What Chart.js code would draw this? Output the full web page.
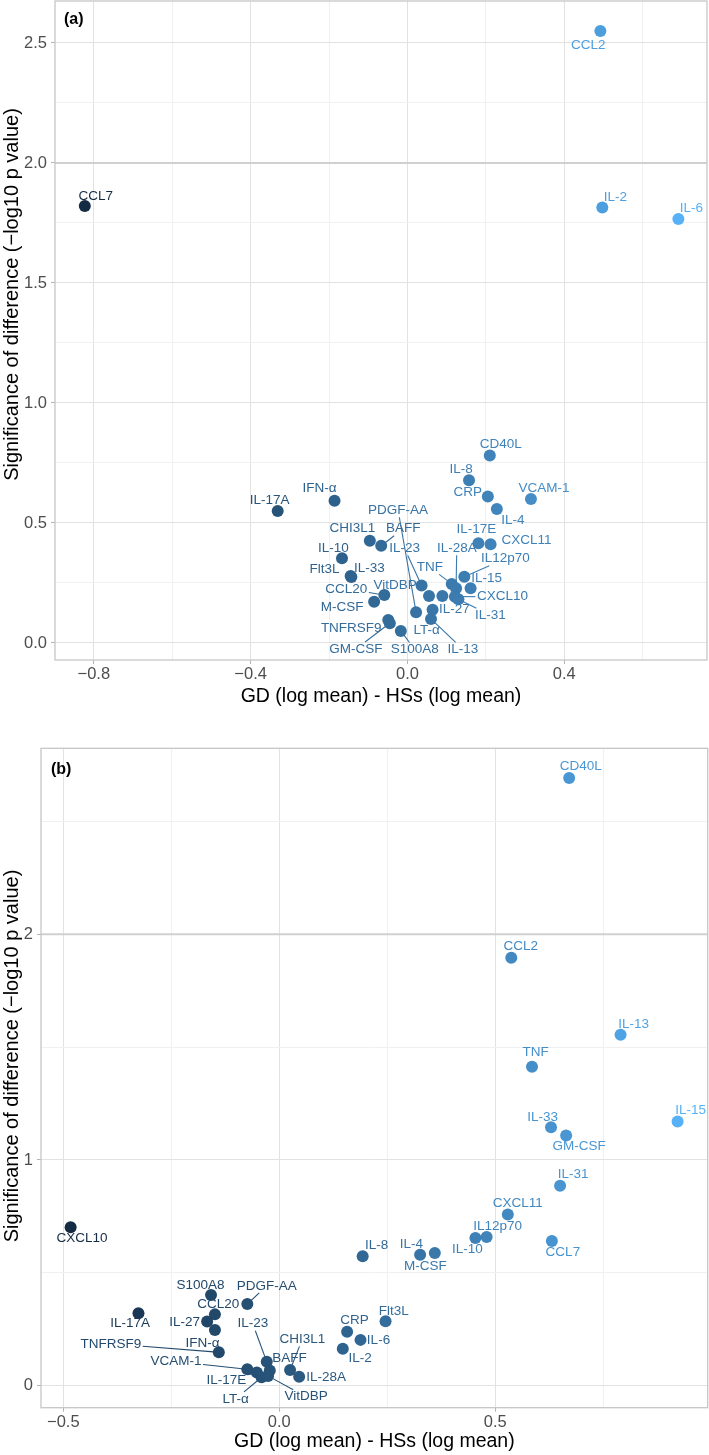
<!DOCTYPE html>
<html><head><meta charset="utf-8">
<script src="https://cdn.jsdelivr.net/npm/chart.js@4.4.1/dist/chart.umd.min.js"></script>
<style>
html,body{margin:0;padding:0;background:#fff;}
#wrapA{position:absolute;left:0;top:0;width:709px;height:710px;}
#wrapB{position:absolute;left:0;top:710px;width:709px;height:745px;}
canvas{display:block;}
</style></head><body>
<div id="wrapA"><canvas id="chartA" width="709" height="710"></canvas></div>
<div id="wrapB"><canvas id="chartB" width="709" height="745"></canvas></div>
<script>
// ---------------- Panel (a) data ----------------
const namesA = ["CCL7","CCL2","IL-2","IL-6","CD40L","IL-8","CRP","IL-4","VCAM-1","IFN-α","IL-17A","CHI3L1","BAFF","IL-10","Flt3L","IL-33","IL-17E","CXCL11","IL12p70","IL-15","TNF","IL-28A","CXCL10","IL-31","IL-23","VitDBP","IL-27","CCL20","M-CSF","PDGF-AA","LT-α","IL-13","TNFRSF9","GM-CSF","S100A8"];
const diffA = [-0.823,0.492,0.497,0.691,0.210,0.157,0.205,0.228,0.315,-0.186,-0.331,-0.096,-0.067,-0.167,-0.145,-0.143,0.181,0.212,0.145,0.161,0.113,0.124,0.121,0.130,0.036,0.055,0.089,-0.059,-0.085,0.022,0.064,0.060,-0.049,-0.045,-0.017];
const sigA  = [1.821,2.550,1.815,1.767,0.781,0.678,0.610,0.558,0.600,0.593,0.550,0.426,0.405,0.353,0.279,0.275,0.415,0.411,0.276,0.228,0.246,0.228,0.193,0.182,0.239,0.196,0.196,0.200,0.172,0.128,0.138,0.100,0.096,0.082,0.050];
const xMajorA = [-0.8,-0.4,0,0.4];
const xMinorA = [-0.6,-0.2,0.2,0.6];
const xLabelsA = ["−0.8","−0.4","0.0","0.4"];
const yMajorA = [0,0.5,1,1.5,2,2.5];
const yMinorA = [0.25,0.75,1.25,1.75,2.25];
const yLabelsA = ["0.0","0.5","1.0","1.5","2.0","2.5"];

// ---------------- Panel (b) data ----------------
const namesB = ["CD40L","CCL2","IL-13","TNF","IL-33","GM-CSF","IL-15","IL-31","CXCL11","IL12p70","IL-10","CCL7","IL-4","M-CSF","IL-8","Flt3L","CRP","IL-6","IL-2","CXCL10","IL-17A","S100A8","PDGF-AA","CCL20","IL-27","IFN-α","TNFRSF9","IL-23","VCAM-1","IL-17E","BAFF","LT-α","VitDBP","CHI3L1","IL-28A"];
const diffB = [0.671,0.537,0.790,0.585,0.629,0.664,0.922,0.650,0.529,0.480,0.454,0.631,0.326,0.360,0.193,0.246,0.157,0.188,0.147,-0.483,-0.326,-0.158,-0.074,-0.149,-0.167,-0.149,-0.140,-0.029,-0.074,-0.052,-0.022,-0.041,-0.026,0.025,0.046];
const sigB  = [2.692,1.896,1.555,1.413,1.145,1.109,1.171,0.886,0.759,0.659,0.654,0.641,0.580,0.588,0.573,0.285,0.239,0.203,0.164,0.702,0.321,0.402,0.362,0.316,0.284,0.247,0.148,0.106,0.073,0.058,0.067,0.037,0.043,0.070,0.040];
const xMajorB = [-0.5,0,0.5];
const xMinorB = [-0.25,0.25,0.75];
const xLabelsB = ["−0.5","0.0","0.5"];
const yMajorB = [0,1,2];
const yMinorB = [0.5,1.5,2.5];
const yLabelsB = ["0","1","2"];

const threshold = 2;
const xTitle = "GD (log mean) - HSs (log mean)";
const yTitle = "Significance of difference (−log10 p value)";

// ---------------- label placement (pixel offsets from point, segment flag) ----------------
const labelPosA = {"CCL7":[11,-10],"CCL2":[-12,14],"IL-2":[13,-10],"IL-6":[13,-10.5],"CD40L":[11,-11],"IL-8":[-8,-11],"CRP":[-20,-4],"IL-4":[16,11],"VCAM-1":[13,-11],"IFN-α":[-15,-12],"IL-17A":[-8,-11],"CHI3L1":[-17.5,-12],"BAFF":[22,-17,1],"IL-10":[-8.5,-10],"Flt3L":[-26,-6.5],"IL-33":[18,-9],"IL-17E":[-2,-14],"CXCL11":[36,-4],"IL12p70":[41,-18,1],"IL-15":[16,-10],"TNF":[-22,-16.5,1],"IL-28A":[0.7,-40,1],"CXCL10":[47.5,0,1],"IL-31":[32,16,1],"IL-23":[-17,-37,1],"VitDBP":[-34,-10.5],"IL-27":[12,13.5],"CCL20":[-38,-6,1],"M-CSF":[-32,5.5],"PDGF-AA":[-18,-102,1],"LT-α":[-6,20.5],"IL-13":[32,30.5,1],"TNFRSF9":[-37,8],"GM-CSF":[-34,25.7,1],"S100A8":[14,18.5,1]};
const labelPosB = {"CD40L":[11.5,-12],"CCL2":[9.5,-11],"IL-13":[13,-10.7],"TNF":[3.5,-14.7],"IL-33":[-8.5,-10],"GM-CSF":[13,11],"IL-15":[13,-11],"IL-31":[13,-11],"CXCL11":[10,-11],"IL12p70":[11,-10.3],"IL-10":[-8,11.5],"CCL7":[11,11.5],"IL-4":[-8.7,-10.2],"M-CSF":[-9.4,13.5],"IL-8":[14,-10.8],"Flt3L":[8.3,-10.5],"CRP":[7.4,-11.2],"IL-6":[18,0.5],"IL-2":[17.3,10],"CXCL10":[11.3,11.5],"IL-17A":[-8.3,10.5],"S100A8":[-10.5,-9.5],"PDGF-AA":[19.4,-18.2,1],"CCL20":[3.3,-10.5],"IL-27":[-22.6,1],"IFN-α":[-12.5,13],"TNFRSF9":[-108,-8.5,1],"IL-23":[-14,-38,1],"VCAM-1":[-71.3,-7.6,1],"BAFF":[19.7,-12],"IL-17E":[-30.4,7.3,1],"LT-α":[-26,21.5,1],"VitDBP":[38,20.7,1],"CHI3L1":[12.2,-30.5,1],"IL-28A":[27,1]};

// ---------------- colour gradient (ggplot default, Lab interpolation) ----------------
function hexToRgb(h){return [1,3,5].map(i=>parseInt(h.substr(i,2),16));}
function toLin(c){c/=255;return c<=0.04045?c/12.92:Math.pow((c+0.055)/1.055,2.4);}
function fromLin(c){const v=c<=0.0031308?12.92*c:1.055*Math.pow(c,1/2.4)-0.055;return Math.round(Math.max(0,Math.min(1,v))*255);}
function rgbToLab(rgb){const r=toLin(rgb[0]),g=toLin(rgb[1]),b=toLin(rgb[2]);
  const X=(0.4124*r+0.3576*g+0.1805*b)/0.95047,Y=(0.2126*r+0.7152*g+0.0722*b),Z=(0.0193*r+0.1192*g+0.9505*b)/1.08883;
  const f=t=>t>0.008856?Math.cbrt(t):(7.787*t+16/116);
  const fx=f(X),fy=f(Y),fz=f(Z);return [116*fy-16,500*(fx-fy),200*(fy-fz)];}
function labToRgb(lab){const fy=(lab[0]+16)/116,fx=fy+lab[1]/500,fz=fy-lab[2]/200;
  const fi=t=>t*t*t>0.008856?t*t*t:(t-16/116)/7.787;
  const X=fi(fx)*0.95047,Y=fi(fy),Z=fi(fz)*1.08883;
  return [fromLin(3.2406*X-1.5372*Y-0.4986*Z),fromLin(-0.9689*X+1.8758*Y+0.0415*Z),fromLin(0.0557*X-0.2040*Y+1.0570*Z)];}
const LAB_LOW=rgbToLab(hexToRgb("#132B43")), LAB_HIGH=rgbToLab(hexToRgb("#56B1F7"));
function gradColor(t){t=Math.max(0,Math.min(1,t));const l=LAB_LOW.map((v,i)=>v+(LAB_HIGH[i]-v)*t);const c=labToRgb(l);return `rgb(${c[0]},${c[1]},${c[2]})`;}

const FONT = "'Liberation Sans', Arial, Helvetica, sans-serif";

const decorPlugin = {
  id:'decor',
  beforeDatasetsDraw(chart,args,opts){
    const {ctx,chartArea:a,scales:{y}} = chart;
    const yy = y.getPixelForValue(opts.hline);
    ctx.save();ctx.strokeStyle='#D0D0D0';ctx.lineWidth=2;
    ctx.beginPath();ctx.moveTo(a.left,yy);ctx.lineTo(a.right,yy);ctx.stroke();ctx.restore();
  },
  afterDatasetsDraw(chart,args,opts){
    const {ctx,chartArea:a,scales:{x,y}} = chart;
    const ds = chart.data.datasets[0];
    const colors = opts.colors;
    ctx.save();
    ctx.font = "13.5px "+FONT;
    ctx.textAlign='center';ctx.textBaseline='middle';
    ds.data.forEach((p,i)=>{
      const px=x.getPixelForValue(p.x), py=y.getPixelForValue(p.y);
      const lp = opts.labelPos[opts.names[i]] || [0,-11];
      const cx=px+lp[0], cy=py+lp[1];
      const txt=opts.names[i];
      const w=ctx.measureText(txt).width, h=10;
      ctx.fillStyle=colors[i];ctx.strokeStyle=colors[i];
      if(lp[2]){
        const dx=px-cx, dy=py-cy;
        const sx = Math.abs(dx)>1e-6 ? (w/2+1.5)/Math.abs(dx) : Infinity;
        const sy = Math.abs(dy)>1e-6 ? (h/2+2)/Math.abs(dy) : Infinity;
        const s=Math.min(sx,sy);
        if(s<1){
          const x0=cx+dx*s, y0=cy+dy*s;
          const len=Math.hypot(dx,dy);
          const x1=px-dx/len*5, y1=py-dy/len*5;
          if(Math.hypot(x1-x0,y1-y0)>2){
            ctx.lineWidth=1.1;ctx.beginPath();ctx.moveTo(x0,y0);ctx.lineTo(x1,y1);ctx.stroke();
          }
        }
      }
      ctx.fillText(txt,cx,cy);
    });
    ctx.restore();
    // panel border
    ctx.save();ctx.strokeStyle='#C6C6C6';ctx.lineWidth=1.3;
    ctx.strokeRect(a.left,a.top,a.right-a.left,a.bottom-a.top);ctx.restore();
    // tag
    ctx.save();ctx.font="bold 16px "+FONT;ctx.fillStyle='#000';ctx.textAlign='left';ctx.textBaseline='middle';
    ctx.fillText(opts.tag,a.left+opts.tagDx,a.top+opts.tagDy);ctx.restore();
    // y-axis title (vertical)
    ctx.save();ctx.font="20px "+FONT;ctx.fillStyle='#000';ctx.textAlign='center';ctx.textBaseline='middle';
    ctx.translate(opts.yTitleX, (a.top+a.bottom)/2 + opts.yTitleShift);ctx.rotate(-Math.PI/2);
    ctx.fillText(yTitle,0,0);ctx.restore();
  }
};

function near(v,arr){return arr.some(m=>Math.abs(m-v)<1e-9);}

function makeChart(id,names,xs,ys,xMaj,xMin,xLab,yMaj,yMin,yLab,lim,layout,labelPos,tag){
  const xmin=Math.min(...xs), xmax=Math.max(...xs);
  const colors = xs.map(v=>gradColor((v-xmin)/(xmax-xmin)));
  const pts = xs.map((v,i)=>({x:v,y:ys[i]}));
  const xTicks=[...xMaj,...xMin].sort((a,b)=>a-b);
  const yTicks=[...yMaj,...yMin].sort((a,b)=>a-b);
  const gridColor=(maj)=>(c)=> (c.tick && near(c.tick.value,maj)) ? '#E2E2E2' : '#F0F0F0';
  const tickColor=(maj)=>(c)=> (c.tick && near(c.tick.value,maj)) ? '#B3B3B3' : 'rgba(0,0,0,0)';
  return new Chart(document.getElementById(id),{
    type:'scatter',
    data:{datasets:[{data:pts,backgroundColor:colors,pointRadius:6,pointHoverRadius:6,borderWidth:0}]},
    options:{
      responsive:false,animation:false,devicePixelRatio:1,
      layout:{padding:layout.padding,autoPadding:false},
      events:[],
      plugins:{legend:{display:false},tooltip:{enabled:false},
        decor:{hline:threshold,colors:colors,names:names,labelPos:labelPos,tag:tag,tagDx:layout.tagDx,tagDy:layout.tagDy,
               yTitleX:12,yTitleShift:layout.yTitleShift}},
      scales:{
        x:{type:'linear',min:lim.xmin,max:lim.xmax,
          afterBuildTicks:(s)=>{s.ticks=xTicks.map(v=>({value:v}));},
          afterFit:(s)=>{s.height=layout.xh;s.paddingLeft=0;s.paddingRight=0;},
          border:{display:false},
          grid:{color:gridColor(xMaj),lineWidth:1,drawTicks:true,tickLength:4,tickColor:tickColor(xMaj),tickWidth:1},
          ticks:{autoSkip:false,maxRotation:0,padding:1,color:'#4D4D4D',font:{family:FONT,size:16.5},
            callback:(v)=>{const k=xMaj.findIndex(m=>Math.abs(m-v)<1e-9);return k>=0?xLab[k]:'';}},
          title:{display:true,text:xTitle,color:'#000',font:{family:FONT,size:19.5},padding:{top:0,bottom:2}}
        },
        y:{type:'linear',min:lim.ymin,max:lim.ymax,
          afterBuildTicks:(s)=>{s.ticks=yTicks.map(v=>({value:v}));},
          afterFit:(s)=>{s.width=layout.yw;s.paddingTop=0;s.paddingBottom=0;},
          border:{display:false},
          grid:{color:gridColor(yMaj),lineWidth:1,drawTicks:true,tickLength:4,tickColor:tickColor(yMaj),tickWidth:1},
          ticks:{autoSkip:false,padding:4,color:'#4D4D4D',font:{family:FONT,size:16.5},
            callback:(v)=>{const k=yMaj.findIndex(m=>Math.abs(m-v)<1e-9);return k>=0?yLab[k]:'';}},
          title:{display:false}
        }
      }
    },
    plugins:[decorPlugin]
  });
}

makeChart('chartA',namesA,diffA,sigA,xMajorA,xMinorA,xLabelsA,yMajorA,yMinorA,yLabelsA,
  {xmin:-0.899,xmax:0.764,ymin:-0.071,ymax:2.675},
  {padding:{top:1,right:2,left:0,bottom:0},xh:50,yw:55,tagDx:9,tagDy:19,yTitleShift:-36},labelPosA,"(a)");
makeChart('chartB',namesB,diffB,sigB,xMajorB,xMinorB,xLabelsB,yMajorB,yMinorB,yLabelsB,
  {xmin:-0.5516,xmax:0.9917,ymin:-0.0975,ymax:2.824},
  {padding:{top:38.3,right:1.3,left:0,bottom:0},xh:47.3,yw:41,tagDx:10,tagDy:21,yTitleShift:-22},labelPosB,"(b)");
</script>
</body></html>
